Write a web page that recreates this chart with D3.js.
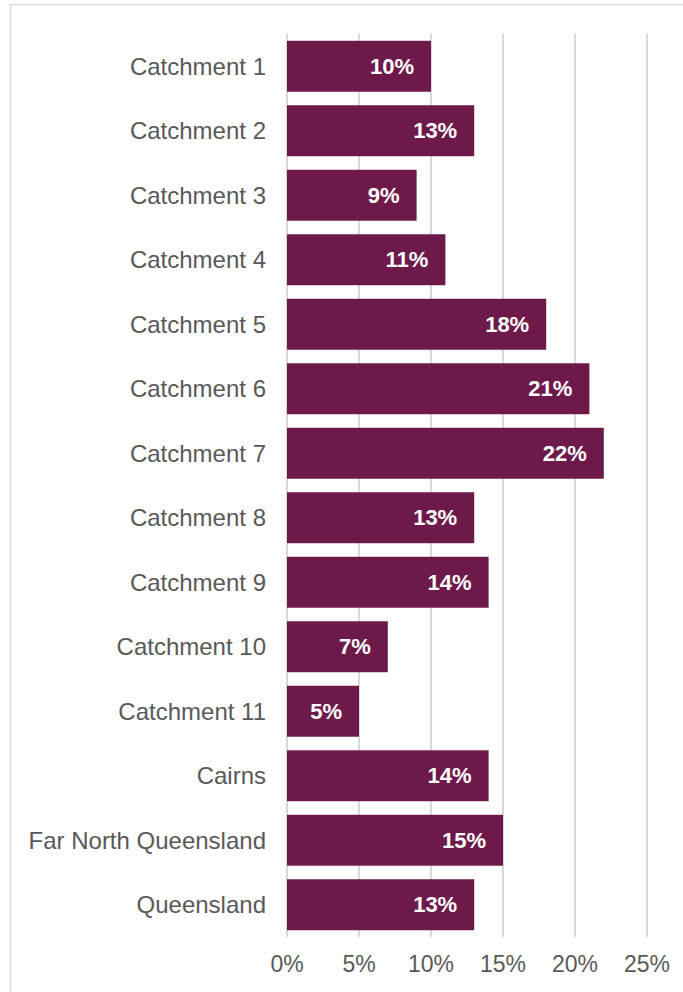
<!DOCTYPE html>
<html>
<head>
<meta charset="utf-8">
<script src="https://cdn.jsdelivr.net/npm/d3@7"></script>
<style>
  html, body { margin: 0; padding: 0; background: #fff; }
  svg { display: block; font-family: "Liberation Sans", Arial, sans-serif; }
</style>
</head>
<body>
<svg id="chart" width="683" height="992"></svg>
<script>
const categories = [
  "Catchment 1", "Catchment 2", "Catchment 3", "Catchment 4", "Catchment 5",
  "Catchment 6", "Catchment 7", "Catchment 8", "Catchment 9", "Catchment 10",
  "Catchment 11", "Cairns", "Far North Queensland", "Queensland"
];
const values = [10, 13, 9, 11, 18, 21, 22, 13, 14, 7, 5, 14, 15, 13];
const tickValues = [0, 5, 10, 15, 20, 25];

const svg = d3.select("#chart");
const barColor = "#6d1a4b";
const gridColor = "#d9d9d9";
const textColor = "#595959";

// outer frame
svg.append("rect")
  .attr("x", 10.5).attr("y", 4.5)
  .attr("width", 700).attr("height", 1000)
  .attr("fill", "none")
  .attr("stroke", gridColor)
  .attr("stroke-width", 1.5);

const plot = { left: 287, right: 647, top: 34, bottom: 937 };

const x = d3.scaleLinear().domain([0, 25]).range([plot.left, plot.right]);
const y = d3.scaleBand().domain(categories).range([plot.top, plot.bottom])
  .paddingInner(0.21).paddingOuter(0.105);

// vertical gridlines
svg.append("g").selectAll("line")
  .data(tickValues)
  .join("line")
  .attr("x1", d => x(d)).attr("x2", d => x(d))
  .attr("y1", plot.top).attr("y2", plot.bottom)
  .attr("stroke", gridColor)
  .attr("stroke-width", 2);

// x-axis tick labels
svg.append("g").selectAll("text")
  .data(tickValues)
  .join("text")
  .attr("x", d => x(d))
  .attr("y", 964)
  .attr("dy", "0.35em")
  .attr("text-anchor", "middle")
  .attr("fill", textColor)
  .attr("font-size", 23)
  .text(d => d + "%");

const rows = categories.map((c, i) => ({ c, v: values[i] }));

// bars
svg.append("g").selectAll("rect")
  .data(rows)
  .join("rect")
  .attr("x", x(0))
  .attr("y", d => y(d.c))
  .attr("width", d => x(d.v) - x(0))
  .attr("height", y.bandwidth())
  .attr("fill", barColor);

// value labels inside bars
svg.append("g").selectAll("text")
  .data(rows)
  .join("text")
  .attr("x", d => x(d.v) - 17)
  .attr("y", d => y(d.c) + y.bandwidth() / 2)
  .attr("dy", "0.35em")
  .attr("text-anchor", "end")
  .attr("fill", "#ffffff")
  .attr("font-size", 22)
  .attr("font-weight", "bold")
  .text(d => d.v + "%");

// category labels
svg.append("g").selectAll("text")
  .data(rows)
  .join("text")
  .attr("x", 266)
  .attr("y", d => y(d.c) + y.bandwidth() / 2)
  .attr("dy", "0.35em")
  .attr("text-anchor", "end")
  .attr("fill", textColor)
  .attr("font-size", 24)
  .text(d => d.c);
</script>
</body>
</html>
